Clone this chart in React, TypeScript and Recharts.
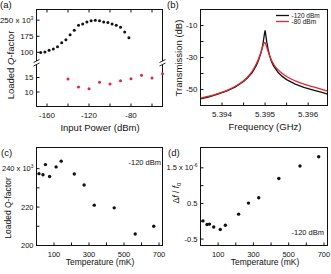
import React from "react";
import { ScatterChart, Scatter, LineChart, Line, XAxis, YAxis } from "recharts";

// (a) loaded Q (x10^3) against input power
const powerHigh = [-166, -162, -158, -154, -150, -146, -142, -138, -134, -130, -126, -122, -118, -114, -110, -106, -102, -98, -94, -90, -86, -82];
const qHigh = [98.5, 101, 109, 115, 126, 145, 159, 182, 203, 226, 232, 242, 247, 250, 247, 242, 239, 232, 226, 217, 195, 168];
const powerLow = [-140, -130, -120, -110, -100, -90, -80, -70, -60, -50];
const qLow = [14.5, 11.7, 11.1, 13.4, 12.8, 13.9, 14.6, 15.8, 14.8, 16.3];

// (b) transmission around the resonance
const freqGHz = [5.3935, 5.3937, 5.3939, 5.3941, 5.3943, 5.3945, 5.3946, 5.3947, 5.3948, 5.39485, 5.3949, 5.39493, 5.39495, 5.39497, 5.39498, 5.39499, 5.395, 5.39501, 5.39502, 5.39504, 5.39507, 5.3951, 5.39515, 5.3952, 5.3953, 5.3954, 5.3955, 5.3957, 5.3959, 5.3961, 5.3963, 5.39645];
const trans120 = [-55.8, -54.6, -52.9, -51.0, -48.5, -45.0, -42.6, -39.4, -34.8, -31.6, -27.4, -24.2, -21.6, -18.0, -16.2, -14.4, -13.0, -14.6, -16.6, -20.4, -24.8, -28.2, -32.6, -35.4, -39.2, -41.8, -43.8, -46.6, -48.6, -50.2, -51.7, -52.9];
const trans80 = [-55.4, -54.2, -52.6, -50.7, -48.1, -44.5, -42.0, -38.6, -33.8, -30.6, -27.0, -24.6, -22.8, -21.2, -20.7, -20.5, -20.7, -21.2, -21.9, -23.6, -26.2, -28.6, -31.8, -34.2, -37.6, -40.0, -41.9, -44.6, -46.6, -48.2, -49.8, -51.0];

// (c), (d) temperature sweeps at -120 dBm
const tempMK = [14, 37, 51, 75, 112, 141, 216, 272, 330, 444, 564, 670];
const qTemp = [237.4, 236.8, 242.1, 235.9, 240.9, 243.9, 237.2, 231.5, 221, 219.6, 206, 210];
const shiftTemp = [0.01, -0.09, -0.08, -0.16, -0.23, -0.11, 0.2, 0.51, 0.66, 1.2, 1.55, 1.81];

const FONT = '"Liberation Sans", Arial, sans-serif';
const INK = "#111";
const RED = "#e5262c";

const powerTicks = [-160, -140, -120, -100, -80, -60];
const freqTicks = [5.394, 5.3945, 5.395, 5.3955, 5.396];
const tempTicks = [100, 200, 300, 400, 500, 600, 700];

type TickLab = { v: number; text: string; sup?: string };
type Side = "left" | "right" | "top" | "bottom";

const labs = (vals: number[], fmt = (v: number) => String(v)): TickLab[] => vals.map((v) => ({ v, text: fmt(v) }));

// inward tick mark plus optional label; edge = frame position in chart coordinates
function ticker(side: Side, edge: number, list: TickLab[] = [], fs = 8) {
  return (p: any) => {
    const lab = list.find((l) => Math.abs(l.v - p.payload.value) < 1e-7);
    const horiz = side === "top" || side === "bottom";
    const c = horiz ? p.x : p.y;
    const d = side === "left" || side === "top" ? 3 : -3;
    return (
      <g>
        {horiz ? (
          <line x1={c} x2={c} y1={edge} y2={edge + d} stroke={INK} strokeWidth={1} />
        ) : (
          <line x1={edge} x2={edge + d} y1={c} y2={c} stroke={INK} strokeWidth={1} />
        )}
        {lab && side === "bottom" && (
          <text x={c} y={edge + 8.5} dy="0.35em" textAnchor="middle" fontSize={fs} fill={INK} fontFamily={FONT}>
            {lab.text}
          </text>
        )}
        {lab && side === "left" && (
          <text x={edge - 3} y={c} dy="0.35em" textAnchor="end" fontSize={fs} fill={INK} fontFamily={FONT}>
            {lab.text}
            {lab.sup && (
              <tspan dy={-fs * 0.4} fontSize={fs * 0.65}>
                {lab.sup}
              </tspan>
            )}
          </text>
        )}
      </g>
    );
  };
}

const bare = { axisLine: false, tickLine: false, interval: 0 as const };

const dot = (color: string, r: number) => (p: any) => <circle cx={p.cx} cy={p.cy} r={r} fill={color} />;

const pts = (xs: number[], ys: number[]) => xs.map((x, i) => ({ x, y: ys[i] }));

function PanelA() {
  return (
    <>
      <div style={{ position: "absolute", left: 0, top: 0 }}>
        <ScatterChart width={170} height={63} margin={{ top: 0, right: 0, bottom: 0, left: 0 }}>
          <XAxis xAxisId="t" orientation="top" type="number" dataKey="x" domain={[-170, -50]} ticks={powerTicks} height={9.5} tick={ticker("top", 9.5)} {...bare} />
          <YAxis yAxisId="l" type="number" dataKey="y" domain={[50, 300]} ticks={[100, 175, 250]} width={36.5}
            tick={ticker("left", 36.5, [{ v: 250, text: "250 x 10", sup: "3" }, ...labs([175, 100])], 8)} {...bare} />
          <YAxis yAxisId="r" orientation="right" type="number" domain={[50, 300]} ticks={[100, 175, 250]} width={7.5} tick={ticker("right", 162.5)} {...bare} />
          <Scatter xAxisId="t" yAxisId="l" data={pts(powerHigh, qHigh)} shape={dot(INK, 1.5)} isAnimationActive={false} />
        </ScatterChart>
      </div>
      <div style={{ position: "absolute", left: 0, top: 63 }}>
        <ScatterChart width={170} height={74} margin={{ top: 0, right: 0, bottom: 0, left: 0 }}>
          <XAxis xAxisId="b" type="number" dataKey="x" domain={[-170, -50]} ticks={powerTicks} height={30.5}
            tick={ticker("bottom", 43.5, labs([-160, -120, -80]), 8)} {...bare} />
          <YAxis yAxisId="l" type="number" dataKey="y" domain={[5, 20]} ticks={[10, 15]} width={36.5} tick={ticker("left", 36.5, labs([15, 10]), 8)} {...bare} />
          <YAxis yAxisId="r" orientation="right" type="number" domain={[5, 20]} ticks={[10, 15]} width={7.5} tick={ticker("right", 162.5)} {...bare} />
          <Scatter xAxisId="b" yAxisId="l" data={pts(powerLow, qLow)} shape={dot(RED, 1.5)} isAnimationActive={false} />
        </ScatterChart>
      </div>
    </>
  );
}

function PanelB() {
  const black = freqGHz.map((f, i) => ({ f, t: trans120[i] }));
  const red = freqGHz.map((f, i) => ({ f, t: trans80[i] }));
  const dom: [number, number] = [5.3935, 5.39645];
  const yTicks = [-50, -40, -30, -20, -10];
  return (
    <div style={{ position: "absolute", left: 165, top: 0 }}>
      <LineChart width={166} height={137} margin={{ top: 0, right: 0, bottom: 0, left: 0 }}>
        <XAxis xAxisId="b" type="number" dataKey="f" domain={dom} ticks={freqTicks} height={31.5} allowDataOverflow
          tick={ticker("bottom", 105.5, labs([5.394, 5.395, 5.396], (v) => v.toFixed(3)), 8)} {...bare} />
        <XAxis xAxisId="t" orientation="top" type="number" domain={dom} ticks={freqTicks} height={9.5} allowDataOverflow tick={ticker("top", 9.5)} {...bare} />
        <YAxis yAxisId="l" type="number" domain={[-60, 0]} ticks={yTicks} width={35.5} tick={ticker("left", 35.5, labs([-50, -30, -10]), 8)} {...bare} />
        <YAxis yAxisId="r" orientation="right" type="number" domain={[-60, 0]} ticks={yTicks} width={3.5} tick={ticker("right", 162.5)} {...bare} />
        <Line xAxisId="b" yAxisId="l" data={black} dataKey="t" type="linear" stroke={INK} strokeWidth={1.3} dot={false} isAnimationActive={false} />
        <Line xAxisId="b" yAxisId="l" data={red} dataKey="t" type="monotone" stroke={RED} strokeWidth={1.3} dot={false} isAnimationActive={false} />
      </LineChart>
    </div>
  );
}

function TempPanel({ left, width, yLeft, domain, ticks, yLabs, ys }: any) {
  return (
    <div style={{ position: "absolute", left, top: 137 }}>
      <ScatterChart width={width} height={137} margin={{ top: 0, right: 0, bottom: 0, left: 0 }}>
        <XAxis xAxisId="b" type="number" dataKey="x" domain={[0, 720]} ticks={tempTicks} height={28.5}
          tick={ticker("bottom", 108.5, labs([100, 300, 500, 700]), 7.5)} {...bare} />
        <XAxis xAxisId="t" orientation="top" type="number" domain={[0, 720]} ticks={tempTicks} height={10.5} tick={ticker("top", 10.5)} {...bare} />
        <YAxis yAxisId="l" type="number" dataKey="y" domain={domain} ticks={ticks} width={yLeft} tick={ticker("left", yLeft, yLabs, 7.5)} {...bare} />
        <YAxis yAxisId="r" orientation="right" type="number" domain={domain} ticks={ticks} width={width - 162.5} tick={ticker("right", 162.5)} {...bare} />
        <Scatter xAxisId="b" yAxisId="l" data={pts(tempMK, ys)} shape={dot(INK, 1.7)} isAnimationActive={false} />
      </ScatterChart>
    </div>
  );
}

// frames, titles, panel letters and annotations; sits underneath the transparent charts
function Labels() {
  return (
    <svg width={331} height={274} style={{ position: "absolute", left: 0, top: 0 }} fontFamily={FONT}>
      <g fill="none" stroke={INK} strokeWidth={1}>
        <rect x={36.5} y={9.5} width={126} height={97} />
        <rect x={200.5} y={9.5} width={127} height={96} />
        <rect x={36.5} y={147.5} width={126} height={98} />
        <rect x={200.5} y={147.5} width={127} height={98} />
      </g>
      <g fill={INK}>
        <text x={0} y={8} fontSize={9.5}>(a)</text>
        <text x={167} y={8} fontSize={9.5}>(b)</text>
        <text x={1} y={156} fontSize={9.5}>(c)</text>
        <text x={168} y={156} fontSize={9.5}>(d)</text>

        <text x={11} y={65} fontSize={9.5} textAnchor="middle" dominantBaseline="middle" transform="rotate(-90 11 65)">
          Loaded <tspan fontStyle="italic">Q</tspan>-factor
        </text>
        <text x={100} y={131} fontSize={9.5} textAnchor="middle">Input Power (dBm)</text>

        <text x={179} y={58} fontSize={9.5} textAnchor="middle" dominantBaseline="middle" transform="rotate(-90 179 58)">
          Transmission (dB)
        </text>
        <text x={265} y={130} fontSize={9.5} textAnchor="middle">Frequency (GHz)</text>
        <text x={291.5} y={17.8} fontSize={6.5}>-120 dBm</text>
        <text x={291.5} y={23.8} fontSize={6.5}>-80 dBm</text>

        <text x={9} y={208} fontSize={8.5} textAnchor="middle" dominantBaseline="middle" transform="rotate(-90 9 208)">
          Loaded Q-factor
        </text>
        <text x={100} y={265} fontSize={8.5} textAnchor="middle">Temperature (mK)</text>
        <text x={161} y={165} fontSize={7.5} textAnchor="end">-120 dBm</text>

        <text x={177} y={193} fontSize={8.5} textAnchor="middle" dominantBaseline="middle" transform="rotate(-90 177 193)">
          Δ<tspan fontStyle="italic">f</tspan> / <tspan fontStyle="italic">f</tspan>
          <tspan fontSize={6} dy={2}>0</tspan>
        </text>
        <text x={265} y={265} fontSize={8.5} textAnchor="middle">Temperature (mK)</text>
        <text x={324} y={235} fontSize={7.5} textAnchor="end">-120 dBm</text>
      </g>
      <line x1={276} y1={15.5} x2={289} y2={15.5} stroke={INK} strokeWidth={1.3} />
      <line x1={276} y1={21.5} x2={289} y2={21.5} stroke={RED} strokeWidth={1.3} />
    </svg>
  );
}

// axis-break marks for panel (a), drawn over the frame
function Breaks() {
  const brk = (x: number) => (
    <g key={x}>
      <rect x={x - 1.5} y={61} width={3} height={4} fill="#fff" />
      <line x1={x - 3} y1={62.5} x2={x + 3} y2={59.5} stroke={INK} strokeWidth={0.9} />
      <line x1={x - 3} y1={66} x2={x + 3} y2={63} stroke={INK} strokeWidth={0.9} />
    </g>
  );
  return (
    <svg width={170} height={80} style={{ position: "absolute", left: 0, top: 0, pointerEvents: "none" }}>
      {brk(36.5)}
      {brk(162.5)}
    </svg>
  );
}

export default function App() {
  return (
    <div style={{ position: "absolute", left: 0, top: 0, width: 331, height: 274, background: "#fff", fontFamily: FONT }}>
      <Labels />
      <PanelA />
      <PanelB />
      <TempPanel left={0} width={170} yLeft={36.5} domain={[200, 251]} ticks={[200, 210, 220, 230, 240]}
        yLabs={[{ v: 240, text: "240 x 10", sup: "3" }, ...labs([220, 200])]} ys={qTemp} />
      <TempPanel left={165} width={166} yLeft={35.5} domain={[-0.68, 2.07]} ticks={[-0.5, 0, 0.5, 1, 1.5]}
        yLabs={[{ v: 1.5, text: "1.5 x 10", sup: "-6" }, ...labs([0.5, -0.5])]} ys={shiftTemp} />
      <Breaks />
    </div>
  );
}
